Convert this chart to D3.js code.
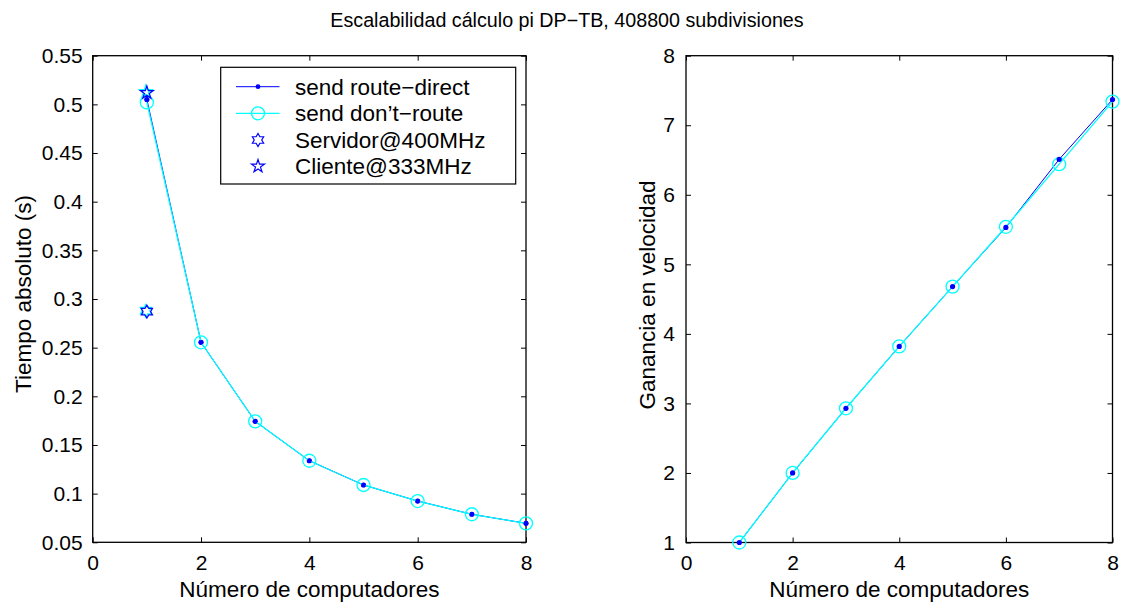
<!DOCTYPE html>
<html>
<head>
<meta charset="utf-8">
<script src="https://cdn.jsdelivr.net/npm/d3@7"></script>
<style>
  body { margin: 0; background: #fff; }
  svg { display: block; }
  text { font-family: "Liberation Sans", Arial, Helvetica, sans-serif; fill: #000; }
</style>
</head>
<body>
<svg id="chart" width="1130" height="606"></svg>
<script>
// ---- Data ----
const nodes = [1, 2, 3, 4, 5, 6, 7, 8];
const timeRouteDirect = [0.505, 0.2555, 0.1743, 0.1338, 0.1089, 0.0924, 0.0788, 0.0695];
const timeDontRoute   = [0.502, 0.2555, 0.1743, 0.1338, 0.1089, 0.0924, 0.0788, 0.0695];
const speedRouteDirect = [1, 2.00, 2.93, 3.82, 4.68, 5.53, 6.51, 7.37];
const speedDontRoute   = [1, 2.00, 2.93, 3.82, 4.68, 5.54, 6.44, 7.34];
const servidorTime = [0.287, 0.288];   // blue, cyan
const clienteTime  = [0.512, 0.513];   // blue, cyan
const xTicks = [0, 2, 4, 6, 8];
const yTicksLeft = [0.05, 0.1, 0.15, 0.2, 0.25, 0.3, 0.35, 0.4, 0.45, 0.5, 0.55];
const yTicksRight = [1, 2, 3, 4, 5, 6, 7, 8];
const legendLabels = ["send route\u2212direct", "send don\u2019t\u2212route", "Servidor@400MHz", "Cliente@333MHz"];
const titleText = "Escalabilidad c\u00e1lculo pi DP\u2212TB, 408800 subdivisiones";
const xLabelText = "N\u00famero de computadores";
const yLabelLeft = "Tiempo absoluto (s)";
const yLabelRight = "Ganancia en velocidad";

const BLUE = "#0000ff", CYAN = "#00ffff";
const svg = d3.select("#chart");

// ---- Scales ----
const xL = d3.scaleLinear().domain([0, 8]).range([92.7, 526]);
const yL = d3.scaleLinear().domain([0.05, 0.55]).range([542.3, 55.7]);
const xR = d3.scaleLinear().domain([0, 8]).range([686, 1112.5]);
const yR = d3.scaleLinear().domain([1, 8]).range([542.5, 55.7]);

function hexagramPath(r) {
  const ri = r / Math.sqrt(3);
  const pts = [];
  for (let i = 0; i < 12; i++) {
    const a = -Math.PI / 2 + i * Math.PI / 6;
    const rr = i % 2 === 0 ? r : ri;
    pts.push([rr * Math.cos(a), rr * Math.sin(a)]);
  }
  return "M" + pts.map(p => p[0].toFixed(2) + "," + p[1].toFixed(2)).join("L") + "Z";
}
function pentagramPath(r) {
  const ri = r * 0.382;
  const pts = [];
  for (let i = 0; i < 10; i++) {
    const a = -Math.PI / 2 + i * Math.PI / 5;
    const rr = i % 2 === 0 ? r : ri;
    pts.push([rr * Math.cos(a), rr * Math.sin(a)]);
  }
  return "M" + pts.map(p => p[0].toFixed(2) + "," + p[1].toFixed(2)).join("L") + "Z";
}

function drawAxes(x, y, yTicks, yFmt, labelPad) {
  const [x0, x1] = x.range();
  const [y0, y1] = y.range();
  const g = svg.append("g");
  const fs = "21px";
  const bottom = g.append("g").attr("transform", `translate(0,${y0})`)
    .call(d3.axisBottom(x).tickValues(xTicks).tickFormat(d3.format("d")).tickSizeInner(-5).tickSizeOuter(0).tickPadding(13));
  const top = g.append("g").attr("transform", `translate(0,${y1})`)
    .call(d3.axisTop(x).tickValues(xTicks).tickFormat("").tickSizeInner(-5).tickSizeOuter(0));
  const left = g.append("g").attr("transform", `translate(${x0},0)`)
    .call(d3.axisLeft(y).tickValues(yTicks).tickFormat(yFmt).tickSizeInner(-5).tickSizeOuter(0).tickPadding(labelPad));
  const right = g.append("g").attr("transform", `translate(${x1},0)`)
    .call(d3.axisRight(y).tickValues(yTicks).tickFormat("").tickSizeInner(-5).tickSizeOuter(0));
  g.selectAll(".domain").remove();
  g.selectAll(".tick line").attr("stroke", "#000").attr("stroke-width", 1);
  g.selectAll(".tick text").style("font-size", fs).style("font-family", '"Liberation Sans", Arial, sans-serif').attr("fill", "#000");
  g.append("rect").attr("x", x0).attr("y", y1).attr("width", x1 - x0).attr("height", y0 - y1)
    .attr("fill", "none").attr("stroke", "#000").attr("stroke-width", 1.3);
}

// backgrounds
svg.append("rect").attr("width", 1130).attr("height", 606).attr("fill", "#fff");

drawAxes(xL, yL, yTicksLeft, d => String(+d.toFixed(2)), 10);
drawAxes(xR, yR, yTicksRight, d3.format("d"), 11);

// ---- Left plot ----
const line = (x, y, vals) => d3.line().x((d, i) => x(nodes[i])).y(d => y(d))(vals);
const gl = svg.append("g");
gl.append("path").attr("d", line(xL, yL, timeRouteDirect)).attr("fill", "none").attr("stroke", BLUE).attr("stroke-width", 1);
gl.selectAll(".dotL").data(timeRouteDirect).join("circle")
  .attr("cx", (d, i) => xL(nodes[i])).attr("cy", d => yL(d)).attr("r", 2.6).attr("fill", BLUE);
gl.append("path").attr("d", line(xL, yL, timeDontRoute)).attr("fill", "none").attr("stroke", CYAN).attr("stroke-width", 1.3);
gl.selectAll(".circL").data(timeDontRoute).join("circle")
  .attr("cx", (d, i) => xL(nodes[i])).attr("cy", d => yL(d)).attr("r", 6.5)
  .attr("fill", "none").attr("stroke", CYAN).attr("stroke-width", 1.3);
// redraw small dots on top
gl.selectAll(".dotL2").data(timeRouteDirect).join("circle")
  .attr("cx", (d, i) => xL(nodes[i])).attr("cy", d => yL(d)).attr("r", 2.3).attr("fill", BLUE);

// stars: cyan first then blue
const starColors = [BLUE, CYAN];
[1, 0].forEach(k => {
  gl.append("path").attr("d", hexagramPath(6.5))
    .attr("transform", `translate(${xL(1) - k * 1},${yL(servidorTime[k])})`)
    .attr("fill", "none").attr("stroke", starColors[k]).attr("stroke-width", 1.2);
  gl.append("path").attr("d", pentagramPath(6.8))
    .attr("transform", `translate(${xL(1) - k * 1},${yL(clienteTime[k])})`)
    .attr("fill", "none").attr("stroke", starColors[k]).attr("stroke-width", 1.2);
});

// ---- Right plot ----
const gr = svg.append("g");
gr.append("path").attr("d", line(xR, yR, speedRouteDirect)).attr("fill", "none").attr("stroke", BLUE).attr("stroke-width", 1);
gr.append("path").attr("d", line(xR, yR, speedDontRoute)).attr("fill", "none").attr("stroke", CYAN).attr("stroke-width", 1.3);
gr.selectAll(".circR").data(speedDontRoute).join("circle")
  .attr("cx", (d, i) => xR(nodes[i])).attr("cy", d => yR(d)).attr("r", 6.5)
  .attr("fill", "none").attr("stroke", CYAN).attr("stroke-width", 1.3);
gr.selectAll(".dotR").data(speedRouteDirect).join("circle")
  .attr("cx", (d, i) => xR(nodes[i])).attr("cy", d => yR(d)).attr("r", 2.6).attr("fill", BLUE);

// ---- Legend ----
const lg = svg.append("g");
lg.append("rect").attr("x", 220.7).attr("y", 67.3).attr("width", 295).attr("height", 116.7)
  .attr("fill", "#fff").attr("stroke", "#000").attr("stroke-width", 1.2);
const rowY = [86.7, 113.3, 140, 166.3];
lg.append("line").attr("x1", 236).attr("x2", 279.5).attr("y1", rowY[0]).attr("y2", rowY[0]).attr("stroke", BLUE).attr("stroke-width", 1);
lg.append("circle").attr("cx", 258).attr("cy", rowY[0]).attr("r", 2.4).attr("fill", BLUE);
lg.append("line").attr("x1", 236).attr("x2", 279.5).attr("y1", rowY[1]).attr("y2", rowY[1]).attr("stroke", CYAN).attr("stroke-width", 1.3);
lg.append("circle").attr("cx", 258).attr("cy", rowY[1]).attr("r", 6.5).attr("fill", "none").attr("stroke", CYAN).attr("stroke-width", 1.3);
lg.append("path").attr("d", hexagramPath(6.5)).attr("transform", `translate(258,${rowY[2]})`).attr("fill", "none").attr("stroke", BLUE).attr("stroke-width", 1.2);
lg.append("path").attr("d", pentagramPath(6.8)).attr("transform", `translate(258,${rowY[3]})`).attr("fill", "none").attr("stroke", BLUE).attr("stroke-width", 1.2);
lg.selectAll(".lt").data(legendLabels).join("text")
  .attr("x", 295).attr("y", (d, i) => rowY[i]).attr("dy", "0.36em")
  .style("font-size", "22.5px").text(d => d);

// ---- Titles / labels ----
svg.append("text").attr("x", 567).attr("y", 26.5).attr("text-anchor", "middle").style("font-size", "19.7px").text(titleText);
svg.append("text").attr("x", (xL(0) + xL(8)) / 2).attr("y", 597).attr("text-anchor", "middle").style("font-size", "22.5px").text(xLabelText);
svg.append("text").attr("x", (xR(0) + xR(8)) / 2).attr("y", 597).attr("text-anchor", "middle").style("font-size", "22.5px").text(xLabelText);
svg.append("text").attr("transform", "translate(31,294) rotate(-90)").attr("text-anchor", "middle").style("font-size", "22.5px").text(yLabelLeft);
svg.append("text").attr("transform", "translate(655,295) rotate(-90)").attr("text-anchor", "middle").style("font-size", "22.5px").text(yLabelRight);
</script>
</body>
</html>
